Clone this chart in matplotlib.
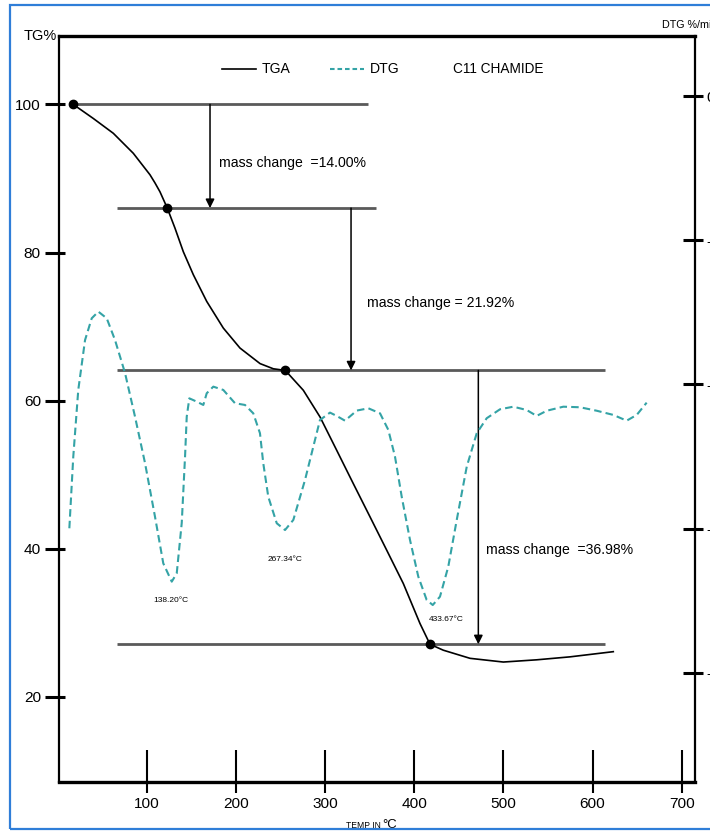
import matplotlib

matplotlib.use("Agg")

import matplotlib.pyplot as plt
from matplotlib import font_manager
from matplotlib.patches import Rectangle

# narrow face if the system has it, otherwise shrink the regular one
installed = {f.name for f in font_manager.fontManager.ttflist}
if "Liberation Sans Narrow" in installed:
    FONT, SCALE = "Liberation Sans Narrow", 1.0
else:
    FONT, SCALE = "Liberation Sans", 0.82
plt.rcParams["font.family"] = [FONT, "DejaVu Sans"]
plt.rcParams["axes.unicode_minus"] = False


def fs(size):
    return size * SCALE


# TGA curve (temperature in C, mass in %)
tga_temp = [17.9, 40.4, 62.8, 85.2, 103.9, 109.5, 115.1, 123.3, 131.9, 141.3,
            152.5, 167.5, 186.1, 204.8, 227.3, 242.2, 255.6, 275.8, 294.5,
            313.2, 331.8, 350.6, 369.3, 387.9, 406.6, 417.8, 432.7, 462.7,
            500.0, 537.4, 574.8, 623.3]
tga_mass = [100.0, 98.1, 96.1, 93.4, 90.5, 89.4, 88.2, 86.0, 83.3, 80.1,
            77.0, 73.4, 69.8, 67.1, 65.0, 64.3, 64.08, 61.4, 57.8,
            53.3, 48.8, 44.3, 39.8, 35.3, 29.9, 27.1, 26.3, 25.2,
            24.7, 25.0, 25.4, 26.1]

# DTG curve (temperature in C, %/min)
dtg_temp = [13.5, 17.9, 23.5, 31.1, 38.6, 46.0, 55.4, 64.7, 75.9, 87.1,
            98.3, 109.5, 118.8, 128.3, 133.9, 139.5, 143.2, 145.1, 148.0,
            156.3, 163.7, 167.5, 174.9, 186.1, 199.2, 210.4, 219.7, 227.2,
            230.9, 236.5, 246.0, 255.3, 264.6, 277.7, 287.0, 294.5, 305.7,
            313.2, 322.5, 335.7, 348.7, 361.8, 371.1, 378.6, 386.1, 395.4,
            404.7, 414.1, 420.9, 429.0, 438.3, 447.8, 459.0, 470.2, 481.4,
            496.3, 511.2, 526.2, 537.4, 548.7, 567.3, 586.0, 604.7, 623.3,
            638.3, 649.6, 660.7]
dtg_rate = [-2.997, -2.501, -2.038, -1.692, -1.541, -1.495, -1.541, -1.692,
            -1.920, -2.223, -2.544, -2.916, -3.240, -3.367, -3.309, -2.960,
            -2.501, -2.223, -2.096, -2.119, -2.142, -2.061, -2.015, -2.038,
            -2.130, -2.142, -2.200, -2.338, -2.546, -2.778, -2.962, -3.009,
            -2.939, -2.662, -2.431, -2.246, -2.195, -2.218, -2.251, -2.181,
            -2.165, -2.200, -2.315, -2.501, -2.778, -3.078, -3.332, -3.494,
            -3.529, -3.471, -3.263, -2.939, -2.570, -2.338, -2.234, -2.172,
            -2.154, -2.177, -2.218, -2.182, -2.154, -2.158, -2.182, -2.211,
            -2.251, -2.211, -2.126]

# decomposition steps
mass_change = [14.00, 21.92, 36.98]
change_text = ["mass change  =14.00%", "mass change = 21.92%",
               "mass change  =36.98%"]
step_temp = [17.9, 123.3, 255.6, 417.8]
level_start = [17.9, 67.3, 67.3, 67.3]
level_end = [348.3, 357.3, 614.0, 614.0]
arrow_temp = [171.2, 329.3, 472.0]
text_temp = [181.3, 347.2, 480.6]
text_mass = [92.1, 73.2, 39.8]

# DTG peak labels
peak_text = ["138.20°C", "267.34°C", "433.67°C"]
peak_temp = [127.5, 255.3, 436.5]
peak_pos = [33.0, 38.6, 30.5]

x_ticks = [100, 200, 300, 400, 500, 600, 700]
tg_ticks = [20, 40, 60, 80, 100]
dtg_ticks = [0, -1, -2, -3, -4]

levels = [100.0]
for dm in mass_change:
    levels.append(round(levels[-1] - dm, 2))

TEAL = "#34a3a6"
GREY = "#5a5a5a"

fig = plt.figure(figsize=(7.1, 8.32), dpi=100)
ax = fig.add_axes([59 / 710, 50 / 832, 636 / 710, 746 / 832])
ax2 = ax.twinx()

ax.set_xlim(1.9, 714.9)
ax.set_ylim(8.5, 109.24)
ax2.set_ylim(-4.756, 0.416)

# ticks cross the frame: major ticks point in, minor copies point out
ax.xaxis.remove_overlapping_locs = False
ax.yaxis.remove_overlapping_locs = False
ax2.yaxis.remove_overlapping_locs = False
ax.set_xticks(x_ticks)
ax.set_xticks(x_ticks, minor=True)
ax.set_yticks(tg_ticks)
ax.set_yticks(tg_ticks, minor=True)
ax2.set_yticks(dtg_ticks)
ax2.set_yticks(dtg_ticks, minor=True)

ax.tick_params(axis="x", which="major", direction="in", length=23, width=1.5,
               pad=11, labelsize=fs(13.5))
ax.tick_params(axis="x", which="minor", direction="out", length=8, width=1.5)
ax.tick_params(axis="y", which="major", direction="in", length=4.3, width=2.2,
               pad=13, labelsize=fs(13.5))
ax.tick_params(axis="y", which="minor", direction="out", length=10, width=2.2)
ax2.tick_params(axis="y", which="major", direction="in", length=8.6, width=2.2,
                pad=8, labelsize=fs(13.5))
ax2.tick_params(axis="y", which="minor", direction="out", length=5.8, width=2.2)

for side in ("left", "top", "bottom"):
    ax2.spines[side].set_visible(False)
ax.spines["right"].set_visible(False)
ax.spines["top"].set_linewidth(2.4)
ax.spines["bottom"].set_linewidth(2.4)
ax.spines["left"].set_linewidth(1.6)
ax2.spines["right"].set_linewidth(1.6)

# level lines and step arrows
for lv, x0, x1 in zip(levels, level_start, level_end):
    ax.plot([x0, x1], [lv, lv], color=GREY, lw=2.0, solid_capstyle="butt",
            zorder=2)
for i, t in enumerate(arrow_temp):
    ax.annotate("", xy=(t, levels[i + 1]), xytext=(t, levels[i]),
                arrowprops=dict(arrowstyle="-|>", color="black", lw=1.1,
                                mutation_scale=13, shrinkA=0, shrinkB=0),
                zorder=3)
    ax.text(text_temp[i], text_mass[i], change_text[i], fontsize=fs(12.3),
            ha="left", va="center")

# TGA
ax.plot(tga_temp, tga_mass, color="black", lw=1.2, zorder=4)
ax.plot(step_temp, levels, "o", color="black", ms=6, zorder=5)

# DTG
ax2.plot(dtg_temp, dtg_rate, color=TEAL, lw=1.5, ls=(0, (3.6, 2.0)))

for txt, t, p in zip(peak_text, peak_temp, peak_pos):
    ax.text(t, p, txt, fontsize=fs(7.4), ha="center", va="center")

# legend row
ax.plot([0.256, 0.310], [0.9558, 0.9558], transform=ax.transAxes,
        color="black", lw=1.2)
ax.text(0.319, 0.9558, "TGA", transform=ax.transAxes, fontsize=fs(12.3),
        ha="left", va="center")
ax.plot([0.426, 0.480], [0.9558, 0.9558], transform=ax.transAxes,
        color=TEAL, lw=1.5, ls=(0, (2.2, 1.4)))
ax.text(0.489, 0.9558, "DTG", transform=ax.transAxes, fontsize=fs(12.3),
        ha="left", va="center")
ax.text(0.619, 0.9558, "C11 CHAMIDE", transform=ax.transAxes,
        fontsize=fs(12), ha="left", va="center")

# axis titles
ax.text(-0.003, 1.0, "TG%", transform=ax.transAxes, fontsize=fs(12.8),
        ha="right", va="center")
ax.text(0.948, 1.0147, "DTG %/min", transform=ax.transAxes,
        fontsize=fs(9.4), ha="left", va="center")
ax.text(0.451, -0.0617, "TEMP IN", transform=ax.transAxes, fontsize=fs(7.5),
        ha="left", va="baseline")
ax.text(0.508, -0.0617, "°C", transform=ax.transAxes, fontsize=fs(11.5),
        ha="left", va="baseline")

# blue frame round the figure
fig.add_artist(Rectangle((10 / 710, 3 / 832), 702 / 710, 824 / 832,
                         transform=fig.transFigure, fill=False,
                         edgecolor="#2f7ed8", lw=1.6))

fig.savefig("out.png", dpi=100)
